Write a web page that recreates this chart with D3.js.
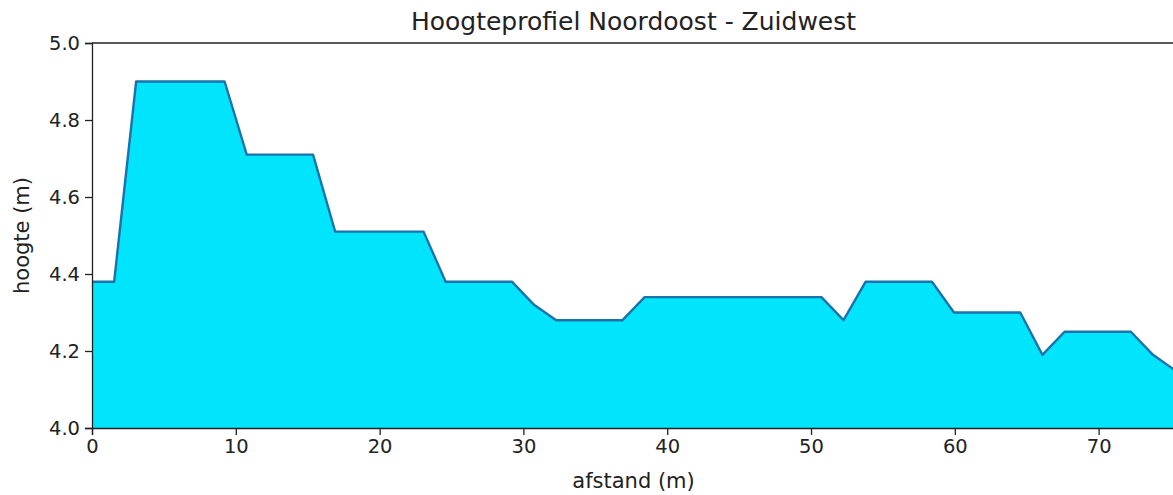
<!DOCTYPE html>
<html>
<head>
<meta charset="utf-8">
<script src="https://cdn.jsdelivr.net/npm/d3@7"></script>
<style>
  body { margin: 0; background: #fff; }
  svg text { font-family: "DejaVu Sans", sans-serif; fill: #222; }
</style>
</head>
<body>
<script>
// Chart size
var w = 1173;
var h = 495;

// Plot area edges
var plotLeft = 92, plotTop = 43, plotBottom = 428, plotRight = 1175;

// Distance along the profile (m)
var afstand = [0.00, 1.54, 3.07, 4.61, 6.15, 7.69, 9.22, 10.76, 12.30, 13.83,
               15.37, 16.91, 18.44, 19.98, 21.52, 23.06, 24.59, 26.13, 27.67, 29.20,
               30.74, 32.28, 33.81, 35.35, 36.89, 38.43, 39.96, 41.50, 43.04, 44.57,
               46.11, 47.65, 49.18, 50.72, 52.26, 53.80, 55.33, 56.87, 58.41, 59.94,
               61.48, 63.02, 64.55, 66.09, 67.63, 69.17, 70.70, 72.24, 73.78, 75.31];

// Height (m)
var hoogte = [4.38, 4.38, 4.90, 4.90, 4.90, 4.90, 4.90, 4.71, 4.71, 4.71,
              4.71, 4.51, 4.51, 4.51, 4.51, 4.51, 4.38, 4.38, 4.38, 4.38,
              4.32, 4.28, 4.28, 4.28, 4.28, 4.34, 4.34, 4.34, 4.34, 4.34,
              4.34, 4.34, 4.34, 4.34, 4.28, 4.38, 4.38, 4.38, 4.38, 4.30,
              4.30, 4.30, 4.30, 4.19, 4.25, 4.25, 4.25, 4.25, 4.19, 4.15];

// Tick values
var xTicks = [0, 10, 20, 30, 40, 50, 60, 70];
var yTicks = [4.0, 4.2, 4.4, 4.6, 4.8, 5.0];

var data = afstand.map(function(d, i) { return { x: d, y: hoogte[i] }; });

var xScale = d3.scaleLinear()
               .domain([0, 75.31])
               .range([plotLeft, plotRight]);

var yScale = d3.scaleLinear()
               .domain([4.0, 5.0])
               .range([plotBottom, plotTop]);

var svg = d3.select("body")
            .append("svg")
            .attr("width", w)
            .attr("height", h);

// Filled area under the profile
var area = d3.area()
             .x(function(d) { return xScale(d.x); })
             .y0(yScale(4.0))
             .y1(function(d) { return yScale(d.y); });

svg.append("path")
   .datum(data)
   .attr("d", area)
   .attr("fill", "#00e4fc");

// Profile line
var line = d3.line()
             .x(function(d) { return xScale(d.x); })
             .y(function(d) { return yScale(d.y); });

svg.append("path")
   .datum(data)
   .attr("d", line)
   .attr("fill", "none")
   .attr("stroke", "#1c72ab")
   .attr("stroke-width", 2.4)
   .attr("stroke-linejoin", "round");

// Axes
var xAxis = d3.axisBottom(xScale)
              .tickValues(xTicks)
              .tickSize(7)
              .tickPadding(4)
              .tickFormat(d3.format("d"));

var yAxis = d3.axisLeft(yScale)
              .tickValues(yTicks)
              .tickSize(7)
              .tickPadding(5)
              .tickFormat(d3.format(".1f"));

var gx = svg.append("g")
            .attr("transform", "translate(0," + plotBottom + ")")
            .call(xAxis);

var gy = svg.append("g")
            .attr("transform", "translate(" + plotLeft + ",0)")
            .call(yAxis);

[gx, gy].forEach(function(g) {
  g.select(".domain").attr("stroke", "#222").attr("stroke-width", 1.3);
  g.selectAll(".tick line").attr("stroke", "#222").attr("stroke-width", 1.3);
  g.selectAll(".tick text")
   .attr("font-size", "19.5px")
   .attr("font-family", "DejaVu Sans, sans-serif")
   .attr("fill", "#222");
});

// Top spine
svg.append("line")
   .attr("x1", plotLeft).attr("x2", plotRight)
   .attr("y1", plotTop).attr("y2", plotTop)
   .attr("stroke", "#222")
   .attr("stroke-width", 1.3);

// Title
svg.append("text")
   .attr("x", (plotLeft + plotRight) / 2)
   .attr("y", 30)
   .attr("text-anchor", "middle")
   .attr("font-size", "25px")
   .text("Hoogteprofiel Noordoost - Zuidwest");

// Axis labels
svg.append("text")
   .attr("x", (plotLeft + plotRight) / 2)
   .attr("y", 488)
   .attr("text-anchor", "middle")
   .attr("font-size", "21px")
   .text("afstand (m)");

svg.append("text")
   .attr("transform", "translate(29," + (plotTop + plotBottom) / 2 + ") rotate(-90)")
   .attr("text-anchor", "middle")
   .attr("font-size", "21px")
   .text("hoogte (m)");
</script>
</body>
</html>
